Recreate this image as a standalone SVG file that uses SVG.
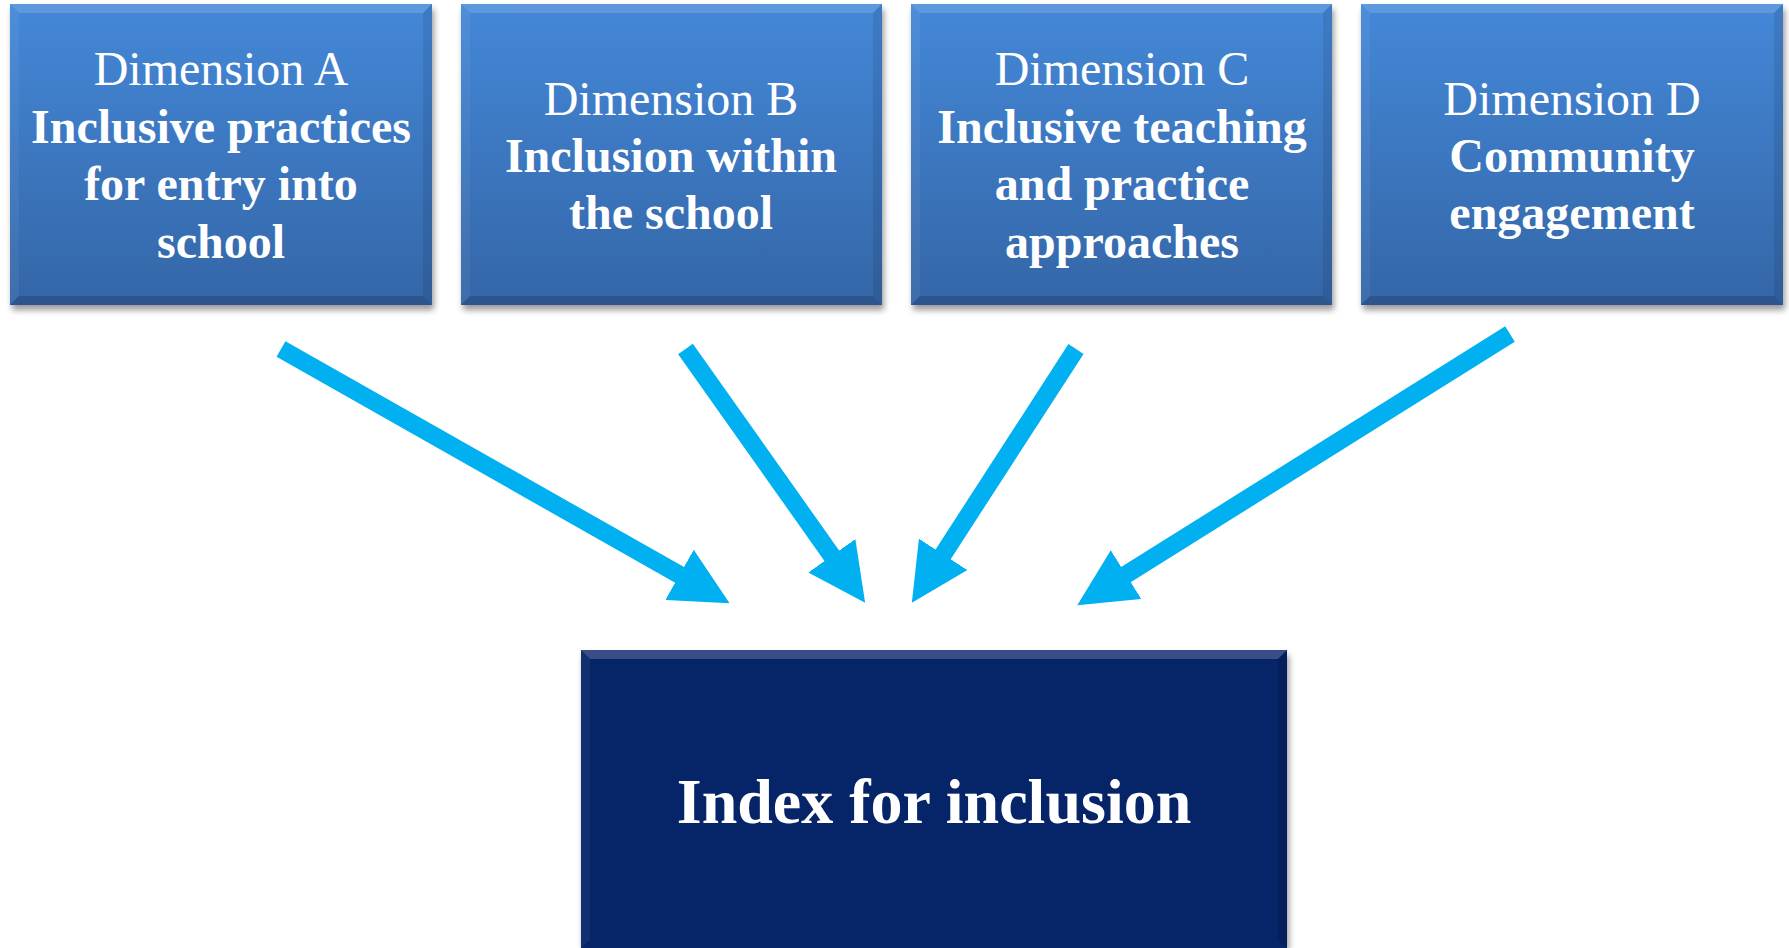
<svg xmlns="http://www.w3.org/2000/svg" width="1789" height="948" viewBox="0 0 1789 948">
<style>
.t{font-family:"Liberation Serif","Times New Roman",serif;font-size:48px;fill:#ffffff;text-anchor:middle}
.b{font-weight:bold}
.big{font-family:"Liberation Serif","Times New Roman",serif;font-size:64px;font-weight:bold;fill:#ffffff;text-anchor:middle}
.box{fill:url(#blueGrad)}
.shadow{fill:#000;opacity:0.4;filter:url(#blur)}
.bt{fill:#ffffff;opacity:0.15}
.bl{fill:#ffffff;opacity:0.05}
.br{fill:#000000;opacity:0.09}
.bb{fill:#000000;opacity:0.16}
.arrow{stroke:#00B0F0;stroke-width:18;fill:none;marker-end:url(#head)}
</style>
<defs>
<linearGradient id="blueGrad" x1="0" y1="0" x2="0" y2="1">
<stop offset="0" stop-color="#4488D8"/>
<stop offset="1" stop-color="#3466A7"/>
</linearGradient>
<filter id="blur" x="-10%" y="-10%" width="120%" height="130%">
<feGaussianBlur stdDeviation="3"/>
</filter>
<marker id="head" viewBox="0 0 10 10" refX="0.2" refY="5" markerWidth="3.2" markerHeight="3.2" markerUnits="strokeWidth" orient="auto">
<path d="M0,0 L10,5 L0,10 z" fill="#00B0F0"/>
</marker>
</defs>
<rect width="1789" height="948" fill="#ffffff"/>

<g id="dimA">
<rect class="shadow" x="12" y="9" width="422" height="301"/>
<rect class="box" x="10" y="4" width="422" height="301"/>
<polygon class="bt" points="10,4 432,4 423,13 19,13"/>
<polygon class="bl" points="10,4 19,13 19,296 10,305"/>
<polygon class="br" points="432,4 432,305 423,296 423,13"/>
<polygon class="bb" points="10,305 432,305 423,296 19,296"/>
<text class="t" x="221" y="85">Dimension A</text>
<text class="t b" x="221" y="143">Inclusive practices</text>
<text class="t b" x="221" y="200">for entry into</text>
<text class="t b" x="221" y="258">school</text>
</g>

<g id="dimB">
<rect class="shadow" x="463" y="9" width="421" height="301"/>
<rect class="box" x="461" y="4" width="421" height="301"/>
<polygon class="bt" points="461,4 882,4 873,13 470,13"/>
<polygon class="bl" points="461,4 470,13 470,296 461,305"/>
<polygon class="br" points="882,4 882,305 873,296 873,13"/>
<polygon class="bb" points="461,305 882,305 873,296 470,296"/>
<text class="t" x="671" y="115">Dimension B</text>
<text class="t b" x="671" y="172">Inclusion within</text>
<text class="t b" x="671" y="229">the school</text>
</g>

<g id="dimC">
<rect class="shadow" x="913" y="9" width="421" height="301"/>
<rect class="box" x="911" y="4" width="421" height="301"/>
<polygon class="bt" points="911,4 1332,4 1323,13 920,13"/>
<polygon class="bl" points="911,4 920,13 920,296 911,305"/>
<polygon class="br" points="1332,4 1332,305 1323,296 1323,13"/>
<polygon class="bb" points="911,305 1332,305 1323,296 920,296"/>
<text class="t" x="1122" y="85">Dimension C</text>
<text class="t b" x="1122" y="143">Inclusive teaching</text>
<text class="t b" x="1122" y="200">and practice</text>
<text class="t b" x="1122" y="258">approaches</text>
</g>

<g id="dimD">
<rect class="shadow" x="1363" y="9" width="422" height="301"/>
<rect class="box" x="1361" y="4" width="422" height="301"/>
<polygon class="bt" points="1361,4 1783,4 1774,13 1370,13"/>
<polygon class="bl" points="1361,4 1370,13 1370,296 1361,305"/>
<polygon class="br" points="1783,4 1783,305 1774,296 1774,13"/>
<polygon class="bb" points="1361,305 1783,305 1774,296 1370,296"/>
<text class="t" x="1572" y="115">Dimension D</text>
<text class="t b" x="1572" y="172">Community</text>
<text class="t b" x="1572" y="229">engagement</text>
</g>

<g id="index">
<rect class="shadow" x="583" y="655" width="706" height="296"/>
<rect x="581" y="650" width="706" height="298" fill="#062468"/>
<polygon points="581,650 1287,650 1278,659 590,659" fill="#ffffff" opacity="0.2"/>
<polygon points="581,650 590,659 590,940 581,948" fill="#ffffff" opacity="0.05"/>
<polygon points="1287,650 1287,948 1278,940 1278,659" fill="#000000" opacity="0.12"/>
<text class="big" x="934" y="823">Index for inclusion</text>
</g>

<g id="connectors">
<line class="arrow" x1="281" y1="349" x2="680.5" y2="575.4"/>
<line class="arrow" x1="685.5" y1="349" x2="832.5" y2="556.7"/>
<line class="arrow" x1="1076" y1="349" x2="942.5" y2="555.3"/>
<line class="arrow" x1="1510" y1="334" x2="1125.1" y2="575.2"/>
</g>
</svg>
